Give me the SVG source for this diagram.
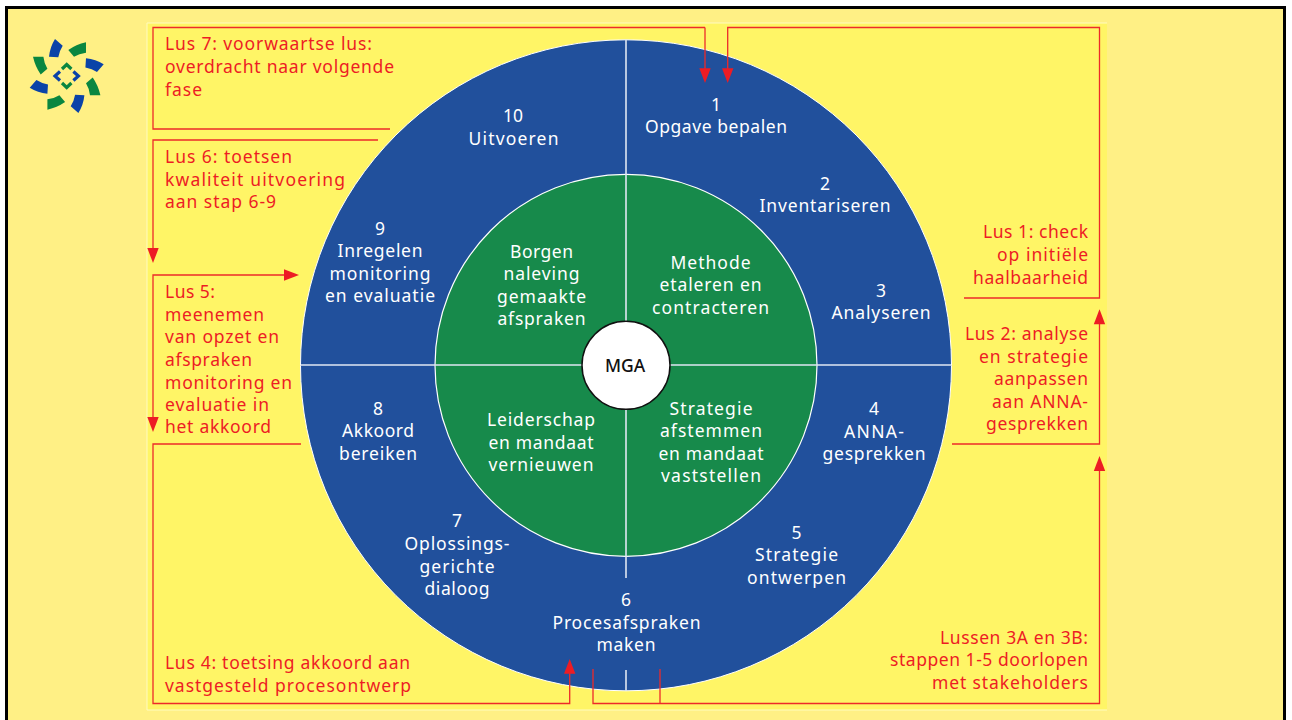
<svg xmlns="http://www.w3.org/2000/svg" xmlns:xlink="http://www.w3.org/1999/xlink" width="1292" height="720" viewBox="0 0 1292 720">
<style>
text{font-family:"Noto Sans","Open Sans",sans-serif;font-size:17.500px;letter-spacing:0}
.w{fill:#fff;text-anchor:middle}
.r{fill:#ed1c24}
.e{text-anchor:end}
.l{fill:none;stroke:#ed2a2a;stroke-width:1.3}
.a{fill:#ed1c24}
.d{stroke:#dfe6f2;stroke-width:1.6;fill:none}
</style>
<defs>
<path id="lb" fill="#0a43a8" d="M55 39L62.700 45.700Q59.500 50.500 58.300 57.300L49 56.700Q50 47 55 39Z"/>
<path id="lg" fill="#0a8640" d="M68.300 50Q76 44.600 86 42.300L86 52.700Q79 53.500 74 56.700Z"/>
</defs>
<rect x="0" y="0" width="1292" height="720" fill="#fff"/>
<path d="M6.500 720V7.500H1284.500V720" fill="#fff085" stroke="#000" stroke-width="3"/>
<rect x="147" y="23" width="960" height="687" fill="#fff566"/>
<path d="M147 710V23H1107M147 710H1107" fill="none" stroke="#fffbc0" stroke-width="1"/>
<g id="logo">
<use xlink:href="#lb"/><use xlink:href="#lb" transform="rotate(90 66.700 76)"/><use xlink:href="#lb" transform="rotate(180 66.700 76)"/><use xlink:href="#lb" transform="rotate(270 66.700 76)"/>
<use xlink:href="#lg"/><use xlink:href="#lg" transform="rotate(90 66.700 76)"/><use xlink:href="#lg" transform="rotate(180 66.700 76)"/><use xlink:href="#lg" transform="rotate(270 66.700 76)"/>
<g fill="none" stroke-width="3.200">
<path d="M60 71.500 L55 76 L60 80.500M73.400 71.500 L78.400 76 L73.400 80.500" stroke="#0a43a8"/>
<path d="M62 69 L66.700 64.500 L71.400 69M62 83 L66.700 87.500 L71.400 83" stroke="#0a8640"/>
</g>
</g>
<g id="ring">
<circle cx="626" cy="365.300" r="325.500" fill="#21509c" stroke="#fff" stroke-width="1"/>
<circle cx="626" cy="365.300" r="191" fill="#178a4b" stroke="#fff" stroke-width="1.200"/>
<path class="d" d="M626 40V578M626 670V691M301 365H951"/>
<circle cx="626" cy="365.300" r="44" fill="#fff" stroke="#111" stroke-width="1.500"/>
</g>
<g id="connectors">
<path class="l" d="M705 27.500H153V129H390"/>
<path class="l" d="M705 27.500V72"/>
<path class="l" d="M727.700 72V27.500H1099.500V298H964"/>
<path class="l" d="M378 140H153V250"/>
<path class="l" d="M288 275H153V419"/>
<path class="l" d="M301 444H153V703.500H569.700V672"/>
<path class="l" d="M952 444H1099.500V322"/>
<path class="l" d="M593 669V703.500H1099.500V470M660 669V703.500"/>
<polygon class="a" points="699.300,68.300 710.700,68.300 705,83"/>
<polygon class="a" points="722,68.300 733.400,68.300 727.700,83"/>
<polygon class="a" points="147.300,248 158.700,248 153,263"/>
<polygon class="a" points="147.300,417 158.700,417 153,432"/>
<polygon class="a" points="284,269.300 284,280.700 299,275"/>
<polygon class="a" points="1093.800,324.300 1105.200,324.300 1099.500,309.300"/>
<polygon class="a" points="1093.800,471 1105.200,471 1099.500,456"/>
<polygon class="a" points="564,673.700 575.400,673.700 569.700,659"/>
</g>
<g id="n-mga"><text x="625" y="372" style="font-weight:500;text-anchor:middle;fill:#111">MGA</text></g>
<g id="n1"><text class="w" x="716" y="111">1</text><text class="w" x="716" y="133" textLength="142">Opgave bepalen</text></g>
<g id="n2"><text class="w" x="825" y="190">2</text><text class="w" x="825" y="212" textLength="131">Inventariseren</text></g>
<g id="n3"><text class="w" x="881" y="297">3</text><text class="w" x="881" y="319" textLength="99">Analyseren</text></g>
<g id="n4"><text class="w" x="874" y="415">4</text><text class="w" x="874" y="438" textLength="60">ANNA-</text><text class="w" x="874" y="460" textLength="103">gesprekken</text></g>
<g id="n5"><text class="w" x="796.500" y="539">5</text><text class="w" x="796.500" y="561" textLength="83">Strategie</text><text class="w" x="796.500" y="584" textLength="99">ontwerpen</text></g>
<g id="n6"><text class="w" x="626" y="606">6</text><text class="w" x="626.500" y="629" textLength="148">Procesafspraken</text><text class="w" x="626" y="651" textLength="59">maken</text></g>
<g id="n7"><text class="w" x="457" y="527">7</text><text class="w" x="457" y="550" textLength="105">Oplossings-</text><text class="w" x="457" y="573" textLength="75">gerichte</text><text class="w" x="457" y="595" textLength="65">dialoog</text></g>
<g id="n8"><text class="w" x="378" y="415">8</text><text class="w" x="378" y="437" textLength="72">Akkoord</text><text class="w" x="378" y="460" textLength="78">bereiken</text></g>
<g id="n9"><text class="w" x="380" y="235">9</text><text class="w" x="380" y="257" textLength="85">Inregelen</text><text class="w" x="380" y="280" textLength="101">monitoring</text><text class="w" x="380" y="302" textLength="110">en evaluatie</text></g>
<g id="n10"><text class="w" x="513" y="122">10</text><text class="w" x="513.500" y="145" textLength="90">Uitvoeren</text></g>
<g id="c1"><text class="w" x="710.500" y="269" textLength="80">Methode</text><text class="w" x="710.500" y="291" textLength="102">etaleren en</text><text class="w" x="710.500" y="314" textLength="117">contracteren</text></g>
<g id="c2"><text class="w" x="711" y="415" textLength="83">Strategie</text><text class="w" x="711" y="437" textLength="102">afstemmen</text><text class="w" x="711" y="460" textLength="105">en mandaat</text><text class="w" x="711" y="482" textLength="100">vaststellen</text></g>
<g id="c3"><text class="w" x="541" y="426" textLength="108">Leiderschap</text><text class="w" x="541" y="449" textLength="105">en mandaat</text><text class="w" x="541" y="471" textLength="105">vernieuwen</text></g>
<g id="c4"><text class="w" x="541.500" y="258" textLength="63">Borgen</text><text class="w" x="541.500" y="280" textLength="76">naleving</text><text class="w" x="541.500" y="303" textLength="89">gemaakte</text><text class="w" x="541.500" y="325" textLength="88">afspraken</text></g>
<g id="labels">
<g id="lus7"><text class="r" x="165" y="50" textLength="207">Lus 7: voorwaartse lus:</text><text class="r" x="165" y="73" textLength="229">overdracht naar volgende</text><text class="r" x="165" y="96" textLength="37">fase</text></g>
<g id="lus6"><text class="r" x="165" y="163" textLength="127">Lus 6: toetsen</text><text class="r" x="165" y="186" textLength="180">kwaliteit uitvoering</text><text class="r" x="165" y="208" textLength="111">aan stap 6-9</text></g>
<g id="lus5"><text class="r" x="165" y="298" textLength="50">Lus 5:</text><text class="r" x="165" y="321" textLength="99">meenemen</text><text class="r" x="165" y="343" textLength="114">van opzet en</text><text class="r" x="165" y="366" textLength="87">afspraken</text><text class="r" x="165" y="389" textLength="127">monitoring en</text><text class="r" x="165" y="411" textLength="104">evaluatie in</text><text class="r" x="165" y="433" textLength="106">het akkoord</text></g>
<g id="lus4"><text class="r" x="165" y="669" textLength="245">Lus 4: toetsing akkoord aan</text><text class="r" x="165" y="692" textLength="246">vastgesteld procesontwerp</text></g>
<g id="lus1"><text class="r e" x="1088" y="238" textLength="105">Lus 1: check</text><text class="r e" x="1088" y="261" textLength="91">op initiële</text><text class="r e" x="1088" y="284" textLength="115">haalbaarheid</text></g>
<g id="lus2"><text class="r e" x="1088" y="340" textLength="123">Lus 2: analyse</text><text class="r e" x="1088" y="363" textLength="109">en strategie</text><text class="r e" x="1088" y="385" textLength="94">aanpassen</text><text class="r e" x="1088" y="408" textLength="96">aan ANNA-</text><text class="r e" x="1088" y="430" textLength="102">gesprekken</text></g>
<g id="lus3"><text class="r e" x="1088" y="644" textLength="148">Lussen 3A en 3B:</text><text class="r e" x="1088" y="666" textLength="198">stappen 1-5 doorlopen</text><text class="r e" x="1088" y="689" textLength="156">met stakeholders</text></g>
</g>
</svg>
